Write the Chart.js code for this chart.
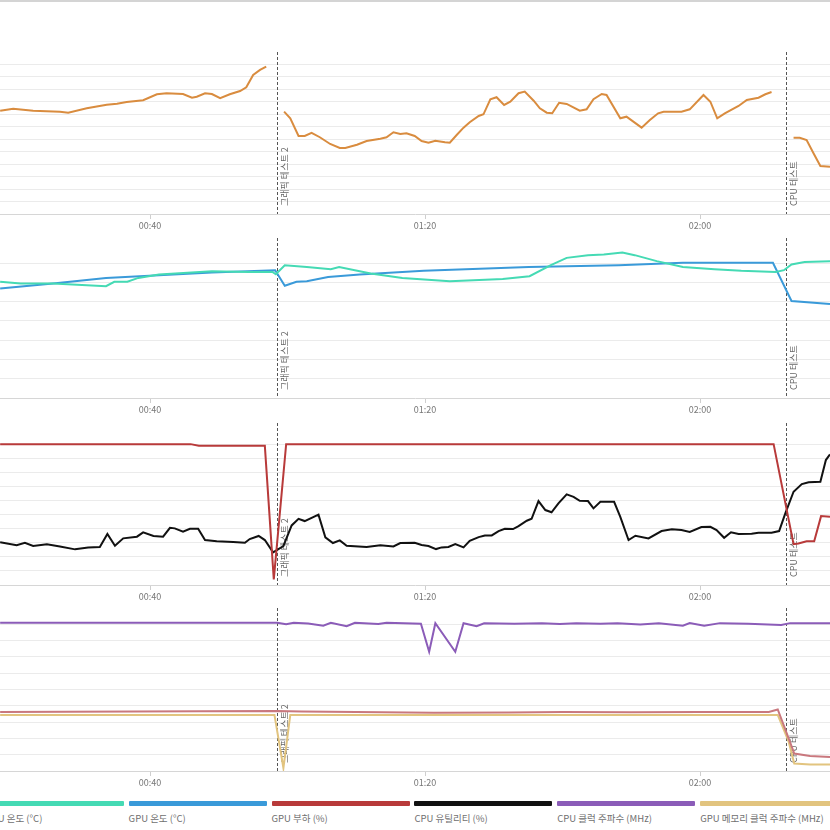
<!DOCTYPE html>
<html>
<head>
<meta charset="utf-8">
<script src="https://cdn.jsdelivr.net/npm/chart.js@4.4.1/dist/chart.umd.min.js"></script>
<style>
  html, body { margin: 0; padding: 0; background: #fff; }
  body { width: 830px; height: 830px; position: relative; overflow: hidden; font-family: "Noto Sans CJK KR", "Noto Sans", sans-serif; }
  .topline { position: absolute; left: 0; top: 0; width: 830px; height: 2px; background: #d4d4d4; }
  .panel { position: absolute; left: 0; width: 830px; }
  .legend-item { position: absolute; top: 801px; width: 138px; }
  .legend-bar { height: 5px; border-radius: 1px; }
  .legend-text { margin-top: 5px; font-size: 9.5px; color: #707070; white-space: nowrap; }
</style>
</head>
<body>
<div class="topline"></div>
<div class="panel" style="top:52px;height:182px"><canvas id="fpsChart"></canvas></div>
<div class="panel" style="top:238px;height:180px"><canvas id="tempChart"></canvas></div>
<div class="panel" style="top:423px;height:182px"><canvas id="loadChart"></canvas></div>
<div class="panel" style="top:608px;height:183px"><canvas id="clockChart"></canvas></div>
<div id="legend"></div>
<script>
// time axis in seconds
const xMin = 18.18;
const xMax = 138.9;
const xTicks = [40, 80, 120];
const xTickLabels = ['00:40', '01:20', '02:00'];

const markerTimes = [58.5, 132.5];
const markerLabels = ['그래픽 테스트 2', 'CPU 테스트'];

const legendLabels = ['CPU 온도 (°C)', 'GPU 온도 (°C)', 'GPU 부하 (%)', 'CPU 유틸리티 (%)', 'CPU 클럭 주파수 (MHz)', 'GPU 메모리 클럭 주파수 (MHz)'];
const legendColors = ['#45dab4', '#3a9ad9', '#b83a3a', '#111111', '#8b5cb8', '#e2c47f'];

// frame rate (FPS)
const fps = [
    [18.2, 82.9], [20.1, 84.5], [23.0, 82.9], [26.9, 82.1], [28.1, 81.3], [30.8, 84.8], [33.7, 87.7], [35.2, 88.5],
    [36.6, 89.9], [39.0, 91.3], [41.0, 96.1], [42.4, 96.9], [44.8, 96.3], [46.1, 93.3], [46.8, 94.1], [48.0, 96.9],
    [49.0, 96.3], [50.2, 92.9], [51.6, 96.1], [53.1, 98.7], [54.0, 101.7], [55.0, 111.6], [56.0, 115.6], [56.9, 118.2],
    [58.2, null],
    [59.5, 82.1], [60.4, 76.8], [61.6, 62.6], [62.5, 62.6], [63.5, 65.2], [64.7, 61.6], [66.2, 56.2], [67.6, 53.0],
    [68.4, 53.0], [70.1, 55.6], [71.5, 58.6], [73.5, 60.4], [74.4, 61.6], [75.4, 65.6], [76.4, 64.2], [77.3, 64.8],
    [78.5, 62.6], [79.5, 58.6], [80.5, 57.2], [81.5, 58.8], [82.9, 57.5], [83.6, 57.2], [84.6, 63.4], [85.6, 69.3],
    [86.5, 73.6], [87.8, 78.7], [88.5, 80.0], [89.5, 92.1], [90.4, 93.7], [91.5, 87.5], [92.4, 90.1], [93.6, 96.9],
    [94.5, 98.2], [95.8, 90.9], [96.7, 84.8], [97.7, 81.3], [98.5, 80.8], [99.5, 89.3], [100.6, 88.3], [102.5, 82.9],
    [103.5, 84.0], [104.5, 92.1], [105.7, 96.3], [106.4, 95.5], [108.4, 76.8], [109.3, 78.1], [111.5, 69.3], [112.7, 75.4],
    [113.9, 80.8], [114.7, 82.1], [116.1, 82.1], [117.3, 82.1], [118.5, 84.0], [120.5, 95.5], [121.5, 90.1], [122.5, 76.8],
    [123.6, 80.8], [125.6, 86.7], [126.8, 91.5], [128.5, 93.3], [129.5, 96.1], [130.4, 97.9],
    [132.0, null],
    [133.6, 61.2], [134.5, 61.2], [135.5, 59.4], [136.5, 48.7], [137.5, 38.5], [138.9, 38.0]
];

const cpuTemp = [
    [18.2, 60.3], [21.2, 59.4], [25.9, 59.4], [33.6, 58.0], [34.8, 60.3], [36.7, 60.3], [38.3, 62.3], [41.3, 64.1],
    [49.0, 65.8], [54.4, 65.4], [57.8, 65.4], [58.3, 64.2], [59.6, 68.9], [62.8, 68.0], [66.3, 66.8], [67.5, 68.0],
    [72.1, 64.6], [76.7, 62.3], [83.6, 60.6], [91.3, 61.7], [95.2, 63.2], [98.3, 68.9], [100.6, 72.7], [103.7, 74.1],
    [106.0, 74.5], [108.7, 75.5], [110.5, 74.1], [113.7, 71.0], [117.5, 68.0], [122.1, 66.8], [126.0, 66.0], [131.0, 65.4],
    [132.2, 66.3], [133.3, 69.3], [135.2, 70.6], [138.9, 71.0]
];

const gpuTemp = [
    [18.2, 56.8], [25.9, 59.4], [33.6, 62.3], [41.3, 63.7], [49.0, 65.1], [58.2, 66.3], [59.6, 58.2], [61.3, 60.3],
    [62.8, 60.6], [65.9, 62.8], [70.5, 64.1], [79.8, 66.0], [95.1, 68.0], [108.2, 68.9], [117.5, 70.1], [130.6, 70.1],
    [133.3, 50.3], [138.9, 48.7]
];

const gpuLoad = [
    [18.2, 100], [45.9, 100], [47.1, 98.8], [56.7, 98.8], [58.0, 4], [59.8, 100], [130.7, 100], [133.6, 29],
    [134.3, 29.5], [135.5, 31], [136.6, 31], [137.6, 48.9], [138.9, 48.4]
];

const cpuUtil = [
    [18.2, 30.3], [20.6, 28.2], [21.8, 30.0], [23.0, 27.7], [25.0, 28.9], [26.9, 27.4], [29.1, 25.3], [31.0, 26.7],
    [32.7, 27.0], [33.8, 36.2], [34.9, 27.9], [36.1, 33.1], [38.1, 34.3], [39.0, 37.4], [40.5, 34.8], [41.9, 34.3],
    [42.9, 40.6], [43.6, 40.2], [44.8, 37.8], [45.8, 39.9], [47.0, 39.9], [48.0, 31.9], [49.7, 31.0], [52.1, 30.5],
    [53.8, 30.0], [54.5, 32.6], [55.8, 34.8], [56.7, 31.9], [57.9, 23.2], [59.4, 27.7], [60.6, 42.3], [61.6, 47.0],
    [62.5, 45.4], [64.5, 49.9], [65.5, 33.8], [66.6, 29.8], [67.6, 31.7], [68.6, 27.9], [71.5, 27.0], [73.5, 28.2],
    [75.4, 27.4], [76.4, 29.8], [78.5, 30.0], [79.5, 28.4], [80.5, 27.7], [81.6, 25.5], [82.4, 26.7], [83.4, 27.0],
    [84.4, 29.1], [85.6, 26.7], [86.5, 31.4], [87.8, 34.0], [88.7, 35.2], [89.7, 35.2], [90.7, 38.3], [91.6, 39.9],
    [92.8, 39.7], [93.6, 41.8], [94.8, 45.6], [95.5, 47.0], [96.5, 59.6], [97.5, 53.2], [98.4, 51.6], [99.4, 57.9],
    [100.6, 64.3], [101.6, 62.6], [102.5, 59.8], [103.7, 59.6], [104.5, 54.4], [105.5, 59.1], [107.5, 59.1], [108.4, 48.4],
    [109.6, 31.9], [110.6, 35.0], [112.5, 33.1], [114.4, 38.3], [115.9, 39.5], [117.3, 39.0], [118.5, 37.6], [120.2, 41.1],
    [121.5, 41.3], [122.4, 39.0], [123.5, 33.5], [124.5, 37.4], [125.6, 36.2], [127.5, 36.4], [128.5, 37.1], [130.4, 37.1],
    [131.5, 38.3], [132.4, 50.9], [133.6, 66.2], [134.8, 71.6], [135.8, 73.0], [137.5, 73.3], [138.3, 88.7], [138.9, 92.7]
];

const cpuClock = [
    [18.2, 4654], [58.5, 4654], [59.8, 4604], [60.9, 4654], [63.0, 4630], [65.2, 4560], [66.3, 4650], [68.6, 4541],
    [69.8, 4650], [73.2, 4610], [74.4, 4650], [79.4, 4620], [80.6, 3742], [81.5, 4635], [84.4, 3742], [85.6, 4635],
    [87.5, 4541], [88.6, 4635], [93.0, 4620], [97.0, 4640], [99.6, 4610], [102.0, 4640], [105.5, 4620], [108.0, 4640],
    [111.3, 4600], [114.0, 4640], [117.5, 4560], [118.5, 4640], [120.6, 4560], [122.9, 4640], [127.0, 4620], [131.8, 4580],
    [133.1, 4640], [138.9, 4640]
];

const gpuClock = [
    [18.2, 1855], [47.3, 1875], [58.5, 1885], [62.0, 1870], [70.0, 1855], [81.3, 1825], [92.1, 1835], [100.0, 1850],
    [110.0, 1845], [120.0, 1850], [130.0, 1850], [131.3, 1931], [132.9, 1019], [133.7, 547], [136.0, 472], [138.9, 440]
];

const gpuMemClock = [
    [18.2, 1760], [58.1, 1760], [59.4, 94], [60.4, 1760], [131.3, 1760], [132.9, 912], [133.7, 233], [136.0, 201],
    [138.9, 201]
];

const toPoints = (pairs) => pairs.map(([x, y]) => ({ x, y }));

const markerPlugin = {
    id: 'markers',
    beforeDatasetsDraw(chart) {
        const { ctx, chartArea, scales } = chart;
        markerTimes.forEach((t, i) => {
            const px = Math.round(scales.x.getPixelForValue(t)) + 0.5;
            ctx.save();
            ctx.strokeStyle = '#555';
            ctx.lineWidth = 1;
            ctx.setLineDash([3, 2]);
            ctx.beginPath();
            ctx.moveTo(px, chartArea.top);
            ctx.lineTo(px, chartArea.bottom);
            ctx.stroke();
            ctx.translate(px + 7, chartArea.bottom - 8);
            ctx.rotate(-Math.PI / 2);
            ctx.fillStyle = '#666';
            ctx.font = '9px "Noto Sans CJK KR"';
            ctx.textBaseline = 'middle';
            ctx.fillText(markerLabels[i], 0, 0);
            ctx.restore();
        });
    }
};

function makeChart(id, datasets, yMax, yStep) {
    return new Chart(document.getElementById(id), {
        type: 'line',
        data: {
            datasets: datasets.map((d) => ({
                data: toPoints(d.data),
                borderColor: d.color,
                borderWidth: 2,
                pointRadius: 0,
                tension: 0,
                spanGaps: false,
                fill: false
            }))
        },
        options: {
            responsive: true,
            maintainAspectRatio: false,
            animation: false,
            layout: { padding: 0 },
            plugins: { legend: { display: false }, tooltip: { enabled: false } },
            scales: {
                x: {
                    type: 'linear',
                    min: xMin,
                    max: xMax,
                    afterBuildTicks: (scale) => { scale.ticks = xTicks.map((v) => ({ value: v })); },
                    afterFit: (scale) => { scale.height = 20; },
                    ticks: {
                        maxRotation: 0,
                        padding: 1,
                        color: '#777',
                        font: { size: 9, family: 'Noto Sans CJK KR' },
                        callback: (value) => xTickLabels[xTicks.indexOf(value)]
                    },
                    grid: { drawOnChartArea: false, drawTicks: true, tickLength: 5, color: '#cfcfcf' },
                    border: { color: '#d6d6d6' }
                },
                y: {
                    min: 0,
                    max: yMax,
                    afterFit: (scale) => { scale.width = 0; },
                    ticks: { display: false, stepSize: yStep },
                    grid: {
                        drawTicks: false,
                        color: (c) => (c.tick && c.tick.value > 0 && c.tick.value < yMax ? '#ebebeb' : 'rgba(0,0,0,0)')
                    },
                    border: { display: false }
                }
            }
        },
        plugins: [markerPlugin]
    });
}

makeChart('fpsChart', [{ data: fps, color: '#d98c3f' }], 130, 10);
makeChart('tempChart', [
    { data: cpuTemp, color: '#45dab4' },
    { data: gpuTemp, color: '#3a9ad9' }
], 83, 10);
makeChart('loadChart', [
    { data: gpuLoad, color: '#b83a3a' },
    { data: cpuUtil, color: '#111111' }
], 115, 10);
makeChart('clockChart', [
    { data: cpuClock, color: '#8b5cb8' },
    { data: gpuClock, color: '#c9787e' },
    { data: gpuMemClock, color: '#e2c47f' }
], 5115, 500);

// legend: colored bar with label underneath
const legend = document.getElementById('legend');
legendLabels.forEach((label, i) => {
    const item = document.createElement('div');
    item.className = 'legend-item';
    item.style.left = `${-14.3 + i * 142.9}px`;
    const bar = document.createElement('div');
    bar.className = 'legend-bar';
    bar.style.background = legendColors[i];
    const text = document.createElement('div');
    text.className = 'legend-text';
    text.textContent = label;
    item.appendChild(bar);
    item.appendChild(text);
    legend.appendChild(item);
});
</script>
</body>
</html>
